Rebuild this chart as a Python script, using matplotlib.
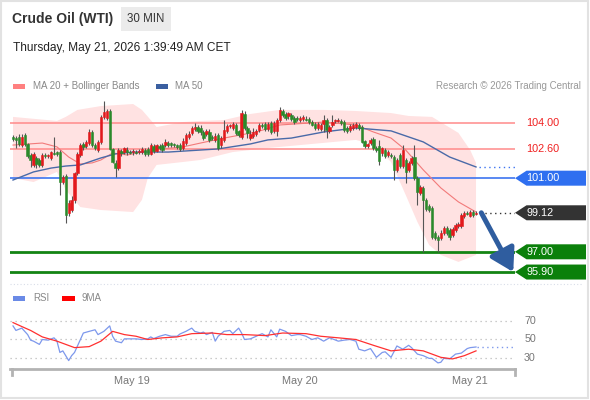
import matplotlib
matplotlib.use("Agg")
import matplotlib.pyplot as plt
import matplotlib.transforms as mtransforms
from matplotlib.patches import Rectangle, Polygon
import numpy as np

plt.rcParams['font.family'] = ['Liberation Sans', 'DejaVu Sans']

W, H = 590, 400

# 30 min candles, oldest first
opens = [103.24, 103.18, 103.24, 102.80, 103.35, 102.86, 102.26, 101.72, 102.10, 101.99,
         101.72, 102.26, 102.21, 102.10, 102.37, 102.42, 102.42, 100.79, 101.12, 99.11,
         99.27, 99.82, 101.28, 102.26, 102.86, 102.75, 102.91, 103.51, 102.80, 102.53,
         102.97, 104.33, 104.27, 104.65, 102.59, 101.83, 101.55, 102.48, 102.42, 102.53,
         102.42, 102.42, 102.42, 102.42, 102.42, 102.53, 102.59, 102.32, 102.75, 102.48,
         102.75, 102.80, 102.80, 102.91, 102.91, 102.86, 102.80, 102.80, 102.64, 102.91,
         103.24, 103.46, 103.67, 103.78, 103.73, 103.51, 103.40, 103.51, 103.24, 103.08,
         103.35, 102.80, 103.08, 103.57, 103.84, 103.73, 103.89, 103.57, 103.24, 104.49,
         103.73, 103.18, 103.29, 103.40, 103.62, 103.89, 103.95, 103.67, 104.00, 103.57,
         103.57, 104.16, 104.65, 104.49, 104.38, 104.43, 104.27, 104.27, 104.16, 104.22,
         104.22, 104.22, 104.05, 103.95, 103.73, 103.67, 103.95, 104.16, 103.57, 103.89,
         104.11, 104.11, 104.11, 104.05, 103.73, 103.62, 103.73, 103.78, 103.89, 103.78,
         103.02, 102.75, 102.91, 103.13, 102.64, 102.75, 102.37, 102.53, 102.26, 102.26,
         102.15, 101.45, 102.26, 101.66, 101.99, 101.45, 101.83, 102.15, 101.01, 100.20,
         100.47, 99.82, 99.49, 99.38, 98.02, 97.80, 97.75, 98.02, 98.29, 98.18,
         97.91, 98.18, 98.40, 98.40, 98.95, 99.11, 98.95, 99.16, 99.05]
highs = [103.35, 103.29, 103.40, 103.40, 103.46, 102.91, 102.37, 102.42, 102.21, 102.10,
         102.37, 102.37, 102.32, 102.48, 103.24, 102.48, 102.53, 101.17, 101.23, 99.82,
         100.03, 101.34, 102.42, 102.91, 102.97, 103.08, 103.67, 103.62, 102.91, 103.08,
         104.43, 105.20, 104.76, 104.76, 102.64, 101.99, 102.64, 102.59, 102.70, 102.70,
         102.53, 102.59, 102.53, 102.59, 102.70, 102.64, 102.70, 102.91, 102.86, 102.86,
         102.86, 102.91, 103.13, 103.02, 102.97, 102.91, 102.86, 102.91, 103.18, 103.46,
         103.57, 103.84, 104.00, 103.89, 103.89, 103.62, 103.67, 103.67, 103.35, 103.46,
         103.46, 103.29, 104.16, 103.95, 103.95, 104.05, 104.00, 103.62, 104.71, 104.65,
         103.84, 103.62, 103.73, 103.67, 104.00, 104.00, 104.05, 104.05, 104.11, 104.11,
         104.27, 104.87, 104.76, 104.60, 104.60, 104.54, 104.38, 104.38, 104.38, 104.43,
         104.38, 104.33, 104.16, 104.05, 104.05, 104.00, 104.43, 104.27, 103.89, 104.43,
         104.22, 104.27, 104.22, 104.16, 103.84, 103.95, 104.00, 104.05, 104.00, 103.89,
         103.08, 102.91, 103.18, 103.24, 102.75, 103.08, 102.70, 102.64, 102.53, 102.37,
         102.26, 102.10, 102.37, 102.80, 102.10, 101.93, 102.21, 102.80, 101.12, 100.63,
         100.58, 99.93, 99.60, 99.49, 98.13, 97.91, 98.18, 98.40, 98.40, 98.29,
         98.35, 98.57, 98.62, 99.11, 99.22, 99.22, 99.27, 99.27, 99.22]
lows = [103.02, 102.64, 102.75, 102.70, 102.75, 102.10, 101.61, 101.61, 101.55, 101.61,
        101.61, 102.10, 102.10, 101.99, 102.26, 102.21, 100.09, 100.68, 98.57, 98.95,
        99.16, 99.65, 101.17, 102.15, 102.53, 102.64, 102.80, 102.70, 102.53, 102.42,
        102.86, 104.22, 104.16, 102.53, 101.83, 101.07, 101.45, 102.21, 102.32, 102.26,
        102.32, 102.26, 102.32, 102.32, 102.32, 102.21, 102.21, 102.26, 102.37, 102.42,
        102.53, 102.42, 102.70, 102.70, 102.70, 102.70, 102.59, 102.48, 102.53, 102.80,
        103.13, 103.35, 103.57, 103.46, 103.35, 103.08, 103.29, 102.97, 103.08, 102.97,
        102.53, 102.64, 102.97, 103.46, 103.73, 103.62, 103.35, 103.24, 103.13, 103.62,
        103.18, 103.08, 103.18, 103.29, 103.51, 103.73, 103.57, 103.57, 103.40, 103.46,
        103.29, 104.05, 104.33, 104.16, 104.22, 104.11, 103.95, 104.11, 104.05, 104.11,
        104.11, 103.95, 103.84, 103.62, 103.62, 103.57, 103.51, 103.18, 103.46, 103.78,
        104.00, 104.05, 103.89, 103.51, 103.46, 103.51, 103.62, 103.67, 103.62, 102.91,
        102.64, 102.64, 102.80, 102.53, 102.42, 101.72, 102.21, 102.10, 102.15, 102.10,
        100.90, 101.34, 101.55, 101.55, 100.74, 101.34, 101.72, 100.90, 99.54, 100.09,
        96.98, 99.22, 99.16, 97.70, 97.64, 96.98, 97.64, 97.91, 97.91, 97.64,
        97.80, 98.08, 98.29, 98.29, 98.84, 99.00, 98.90, 98.90, 99.00]
closes = [103.13, 103.08, 102.86, 103.24, 102.86, 102.21, 101.99, 102.32, 101.77, 101.72,
          102.26, 102.21, 102.26, 102.42, 102.32, 102.32, 100.79, 101.07, 99.00, 99.65,
          99.82, 101.28, 102.32, 102.80, 102.70, 102.97, 103.51, 102.80, 102.64, 102.97,
          104.33, 104.60, 104.65, 102.59, 101.88, 101.55, 102.53, 102.37, 102.64, 102.42,
          102.37, 102.48, 102.37, 102.48, 102.59, 102.32, 102.32, 102.80, 102.48, 102.80,
          102.64, 102.53, 102.97, 102.80, 102.80, 102.80, 102.70, 102.59, 103.02, 103.35,
          103.40, 103.73, 103.78, 103.57, 103.51, 103.18, 103.57, 103.08, 103.18, 103.29,
          102.64, 103.18, 103.62, 103.84, 103.89, 103.95, 103.46, 103.35, 104.54, 103.73,
          103.46, 103.40, 103.51, 103.57, 103.89, 103.84, 103.67, 103.95, 103.51, 104.00,
          104.16, 104.71, 104.43, 104.27, 104.54, 104.22, 104.05, 104.22, 104.27, 104.33,
          104.16, 104.05, 103.89, 103.73, 103.95, 103.89, 104.16, 103.62, 103.78, 104.05,
          104.16, 104.16, 104.00, 103.62, 103.57, 103.84, 103.89, 103.95, 103.73, 102.97,
          102.75, 102.86, 103.08, 102.64, 102.53, 101.93, 102.64, 102.21, 102.42, 102.21,
          101.45, 101.99, 101.66, 102.53, 101.34, 101.83, 102.10, 101.01, 100.25, 100.52,
          99.82, 99.33, 99.27, 97.80, 97.75, 97.64, 98.02, 98.29, 98.02, 97.80,
          98.24, 98.46, 98.51, 99.00, 99.11, 99.08, 99.16, 99.00, 99.12]

# indicators (candle index, value)
ma20_x = [0, 10, 15, 19, 23, 27, 30, 34, 39, 47, 58, 64, 72, 83, 91, 106, 117, 123, 129, 134, 140, 146, 152, 158]
ma20_y = [102.80, 102.91, 102.70, 102.15, 101.77, 101.83, 101.99, 102.37, 102.26, 102.53, 102.70, 102.91,
          103.18, 103.51, 103.89, 104.05, 103.89, 103.51, 103.18, 102.53, 101.45, 100.47, 99.71, 99.16]
ma50_x = [0, 7, 13, 18, 23, 30, 35, 41, 53, 59, 70, 81, 87, 95, 106, 117, 129, 140, 149, 158]
ma50_y = [100.90, 101.34, 101.55, 101.66, 101.72, 102.10, 102.32, 102.42, 102.42, 102.48, 102.59, 102.86,
          103.08, 103.18, 103.51, 103.73, 103.57, 102.97, 102.15, 101.61]
bb_up_x = [0, 15, 18, 22, 30, 41, 44, 47, 49, 58, 64, 72, 81, 91, 106, 117, 129, 135, 143, 152, 156, 158]
bb_up_y = [104.33, 104.11, 104.33, 104.71, 104.92, 105.03, 104.71, 104.16, 103.78, 104.05, 104.11, 104.16,
           104.49, 104.71, 104.71, 104.65, 104.54, 104.38, 104.33, 103.46, 102.53, 101.83]
bb_lo_x = [0, 7, 15, 18, 23, 30, 41, 44, 46, 49, 58, 64, 75, 87, 98, 117, 123, 129, 134, 138, 142, 146, 152, 158]
bb_lo_y = [101.01, 100.79, 101.34, 100.36, 99.43, 99.27, 99.16, 99.82, 101.01, 101.72, 101.88, 101.99,
           102.42, 102.64, 102.80, 103.08, 102.80, 101.88, 100.09, 98.62, 97.37, 96.83, 96.45, 96.83]

rsi_x = [0, 1, 3, 5, 6, 7, 9, 10, 12, 14, 15, 16, 17, 19, 20, 21, 23, 24, 26, 28, 29, 31, 33, 34, 35, 37, 38,
         42, 44, 46, 47, 48, 50, 52, 54, 56, 57, 59, 61, 62, 64, 65, 66, 68, 69, 70, 72, 74, 75, 77, 78, 79,
         81, 83, 85, 87, 88, 90, 91, 93, 95, 97, 98, 100, 102, 104, 106, 108, 109, 111, 113, 115, 117, 118,
         120, 122, 124, 126, 127, 129, 131, 133, 135, 136, 138, 140, 142, 143, 145, 146, 147, 149, 151, 153,
         155, 156, 158]
rsi_y = [64.7, 59.8, 62.3, 55.3, 49.3, 48.2, 44.7, 50.0, 49.3, 51.8, 48.2, 36.0, 37.7, 27.2, 32.5, 36.0, 50.0,
         57.0, 58.8, 60.5, 55.3, 58.8, 64.7, 53.5, 48.2, 46.5, 50.7, 50.7, 50.0, 50.7, 52.8, 51.0, 53.5, 55.3,
         53.5, 53.5, 56.0, 58.8, 62.3, 58.8, 57.0, 58.0, 55.3, 57.7, 48.2, 53.5, 58.8, 59.8, 56.3, 62.3, 57.0,
         50.0, 50.7, 53.5, 56.3, 52.8, 60.5, 52.8, 61.2, 58.8, 54.2, 55.3, 55.3, 53.5, 50.0, 51.8, 48.2, 51.8,
         50.7, 48.2, 49.3, 50.0, 48.2, 39.5, 37.7, 40.2, 30.7, 36.0, 36.7, 30.7, 43.0, 39.5, 43.7, 41.2, 34.2,
         32.5, 29.6, 29.6, 24.7, 25.4, 29.6, 29.0, 34.2, 35.3, 40.2, 41.2, 41.9]
rsi_ma_x = [0, 3, 6, 10, 15, 18, 21, 26, 30, 34, 38, 42, 46, 51, 56, 61, 68, 73, 79, 86, 92, 100, 105, 111,
            117, 123, 129, 135, 140, 146, 150, 154, 158]
rsi_ma_y = [68.3, 64.0, 59.8, 52.8, 48.2, 44.7, 41.2, 42.3, 48.2, 58.8, 55.3, 53.5, 50.0, 51.8, 52.8, 56.3,
            57.0, 55.3, 55.3, 54.2, 57.0, 56.3, 53.5, 51.8, 50.0, 43.7, 37.7, 39.5, 37.7, 30.7, 29.0, 32.5, 37.7]

levels_red = [104.00, 102.60]
level_blue = 101.00
levels_green = [97.00, 95.90]
rsi_levels = [70, 50, 30]
date_pos = [40.6, 98.0, 156.0]
date_lbl = ["May 19", "May 20", "May 21"]

UP = '#e3191c'
DOWN = '#2b8a2b'
GREEN_LVL = '#138413'
BLUE_LVL = '#3d74f0'
RED_LVL = '#ff8a8a'

fig = plt.figure(figsize=(W / 100, H / 100), dpi=100)
fig.patch.set_facecolor('white')


def fx(x):
    return x / W


def fy(y):
    return 1 - y / H


# frame
fig.patches.append(Rectangle((fx(1), fy(398)), fx(587), 397 / H, transform=fig.transFigure,
                             fill=False, ec='#e2e2e2', lw=1.5))

# header
fig.text(fx(12), fy(19), "Crude Oil (WTI)", fontsize=10, fontweight='bold', color='#333333', va='center')
fig.patches.append(Rectangle((fx(121), fy(31)), fx(50), 24 / H, transform=fig.transFigure,
                             fc='#ebebeb', ec='none'))
fig.text(fx(146), fy(19), "30 MIN", fontsize=8.3, color='#333333', va='center', ha='center')
fig.text(fx(13), fy(48), "Thursday, May 21, 2026 1:39:49 AM CET", fontsize=8.6, color='#222222', va='center')

# legend line
fig.patches.append(Rectangle((fx(13), fy(89)), fx(12), 5 / H, transform=fig.transFigure, fc='#ff8080', ec='none'))
fig.text(fx(33), fy(86), "MA 20 + Bollinger Bands", fontsize=7, color='#888888', va='center')
fig.patches.append(Rectangle((fx(156), fy(89)), fx(12), 5 / H, transform=fig.transFigure, fc='#3a5fa0', ec='none'))
fig.text(fx(175), fy(86), "MA 50", fontsize=7, color='#888888', va='center')
fig.text(fx(581), fy(86), "Research \u00a9 2026 Trading Central", fontsize=7, color='#999999',
         va='center', ha='right')

# price panel
ax = fig.add_axes([fx(10), fy(285), fx(505), 190 / H])
ax.set_xlim(-1.024, 171.3)
ax.set_ylim(95.196, 105.52)
ax.axis('off')

ax.fill(bb_up_x + bb_lo_x[::-1], bb_up_y + bb_lo_y[::-1], color='#ffe2e2', lw=0, zorder=1)
for lv in levels_red:
    ax.axhline(lv, color=RED_LVL, lw=1.1, zorder=2)
ax.axhline(level_blue, color=BLUE_LVL, lw=1.2, zorder=2)
for lv in levels_green:
    ax.axhline(lv, color=GREEN_LVL, lw=2, zorder=2)
ax.plot(ma20_x, ma20_y, color='#f27a7a', lw=0.8, zorder=3)
ax.plot(ma50_x, ma50_y, color='#4a6aa8', lw=1.0, zorder=3)

idx = np.arange(len(closes))
o = np.array(opens)
c = np.array(closes)
cols = [UP if cc >= oo else DOWN for oo, cc in zip(o, c)]
ax.vlines(idx, lows, highs, color='#555555', lw=0.8, zorder=4)
ax.bar(idx, c - o, bottom=o, width=0.8, color=cols, edgecolor=cols, lw=0.4, zorder=5)

n = len(closes)
xr = ax.get_xlim()[1]
ax.plot([n + 0.5, xr], [closes[-1]] * 2, ls=(0, (1, 2.5)), color='#333333', lw=1, zorder=3)
ax.plot([ma50_x[-1] + 1, xr], [ma50_y[-1]] * 2, ls=(0, (1, 2.5)), color=BLUE_LVL, lw=1, zorder=3)

ax.annotate('', xy=(xr - 0.6, levels_green[1]), xytext=(n + 0.8, closes[-1]),
            arrowprops=dict(arrowstyle='-|>,head_length=0.75,head_width=0.45', color='#2f5d9f', lw=3.6,
                            shrinkA=0, shrinkB=0, mutation_scale=18),
            annotation_clip=False, zorder=6)

bt = mtransforms.blended_transform_factory(ax.transAxes, ax.transData)
hh = 7.5 * (ax.get_ylim()[1] - ax.get_ylim()[0]) / 190


def tag(val, fc):
    pts = [(1.0, val), (1.0228, val + hh), (1.1406, val + hh), (1.1406, val - hh), (1.0228, val - hh)]
    ax.add_patch(Polygon(pts, closed=True, transform=bt, fc=fc, ec='none', clip_on=False))
    ax.text(1.0218, val, f"{val:.2f}", transform=bt, color='white', fontsize=7.8, va='center', clip_on=False)


for lv in levels_red:
    ax.text(1.0218, lv, f"{lv:.2f}", transform=bt, color='#f02020', fontsize=7.8, va='center')
tag(level_blue, '#2f6ff0')
tag(closes[-1], '#333333')
for lv in levels_green:
    tag(lv, '#0b800b')

# separator
fig.lines.append(plt.Line2D([fx(10), fx(582)], [fy(283.5)] * 2, transform=fig.transFigure,
                            color='#d8dde8', lw=0.8, ls=(0, (1, 2))))

# RSI panel
fig.patches.append(Rectangle((fx(13), fy(300.5)), fx(12), 5 / H, transform=fig.transFigure, fc='#6a8ae6', ec='none'))
fig.text(fx(33), fy(298), "RSI", fontsize=7, color='#888888', va='center')
fig.patches.append(Rectangle((fx(62), fy(300.5)), fx(13), 5 / H, transform=fig.transFigure, fc='#ff0000', ec='none'))
fig.text(fx(82), fy(298), "9MA", fontsize=7, color='#888888', va='center')

ax2 = fig.add_axes([fx(10), fy(369), fx(505), 69 / H])
ax2.set_xlim(ax.get_xlim())
ax2.set_ylim(18.1, 92.7)
for s in ['top', 'right', 'left']:
    ax2.spines[s].set_visible(False)
ax2.spines['bottom'].set_color('#b3b3b3')
ax2.spines['bottom'].set_linewidth(2)
ax2.set_yticks([])
ax2.set_xticks(date_pos)
ax2.set_xticklabels(date_lbl, fontsize=7.8, color='#777777')
ax2.tick_params(axis='x', length=0, pad=5)
ax2.plot([0.003, 0.003], [0, -0.08], transform=ax2.transAxes, color='#b3b3b3', lw=2, clip_on=False)
ax2.plot([1.0, 1.0], [0, -0.08], transform=ax2.transAxes, color='#b3b3b3', lw=2, clip_on=False)

bt2 = mtransforms.blended_transform_factory(ax2.transAxes, ax2.transData)
for lv in rsi_levels:
    ax2.axhline(lv, color='#bbbbbb', lw=0.9, ls=(0, (1, 3)))
    ax2.text(1.018, lv, str(lv), transform=bt2, fontsize=7.7, color='#777777', va='center')
ax2.plot(rsi_x, rsi_y, color='#7d98ec', lw=0.9)
ax2.plot(rsi_ma_x, rsi_ma_y, color='#ff3030', lw=0.9)
ax2.plot([rsi_x[-1] + 0.5, xr], [rsi_y[-1]] * 2, color='#7d98ec', lw=1, ls=(0, (1, 2.5)))

fig.savefig("out.png", dpi=100)
